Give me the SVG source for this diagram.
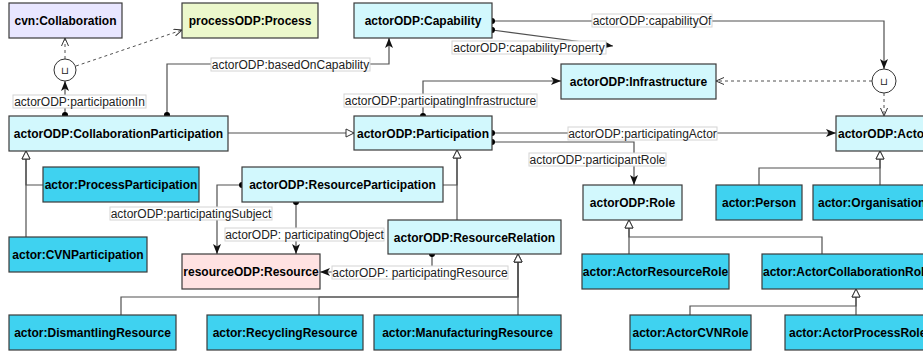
<svg xmlns="http://www.w3.org/2000/svg" width="923" height="352" viewBox="0 0 923 352">
<style>
.box{stroke:#3a3a3a;stroke-width:1.2}
.light{fill:#d2f8fd}
.dark{fill:#3fd2f0}
.nt{font-family:"Liberation Sans",Arial,Helvetica,sans-serif;font-weight:bold;font-size:12px;fill:#000;text-anchor:middle}
.ns{font-family:"Liberation Sans",Arial,Helvetica,sans-serif;font-weight:bold;font-size:12px;fill:#000}
.e{fill:none;stroke:#505050;stroke-width:1.2}
.d{fill:none;stroke:#505050;stroke-width:1;stroke-dasharray:3,3}
.lr{fill:#fff;stroke:#d4d4d4;stroke-width:1}
.lt{font-family:"Liberation Sans",Arial,Helvetica,sans-serif;font-size:12px;fill:#222;text-anchor:middle}
.cup{fill:#fff;stroke:#333;stroke-width:1}
.ct{font-family:"DejaVu Sans",sans-serif;font-size:10px;fill:#222;text-anchor:middle}
</style>
<defs>
<marker id="arr" markerUnits="userSpaceOnUse" viewBox="0 0 10 10" markerWidth="10" markerHeight="10" refX="10" refY="5" orient="auto">
<path d="M0,1 L10,5 L0,9 L2.5,5 z" fill="#111"/>
</marker>
<marker id="open" markerUnits="userSpaceOnUse" viewBox="0 0 8 8" markerWidth="8" markerHeight="8" refX="8" refY="4" orient="auto">
<path d="M0,0.5 L8,4 L0,7.5" fill="none" stroke="#333" stroke-width="1"/>
</marker>
<marker id="tri" markerUnits="userSpaceOnUse" viewBox="-1 -1 10 10" markerWidth="10" markerHeight="10" refX="8" refY="4" orient="auto">
<path d="M0,0 L8,4 L0,8 z" fill="#fff" stroke="#333" stroke-width="1"/>
</marker>
<marker id="dot" markerUnits="userSpaceOnUse" viewBox="0 0 7 7" markerWidth="7" markerHeight="7" refX="3.5" refY="3.5" orient="auto">
<circle cx="3.5" cy="3.5" r="3" fill="#000"/>
</marker>
</defs>
<rect width="923" height="352" fill="#fff"/>

<g id="connectors">
<path class="e" d="M65,115 V81" marker-start="url(#dot)" marker-end="url(#arr)"/>
<path class="d" d="M65,59 V38" marker-end="url(#open)"/>
<path class="d" d="M76,66 L182,30" marker-end="url(#open)"/>
<path class="e" d="M167,115 V64 H389 V38" marker-start="url(#dot)" marker-end="url(#arr)"/>
<path class="e" d="M228,133 H354" marker-end="url(#tri)"/>
<path class="e" d="M492,21 H884 V69" marker-start="url(#dot)" marker-end="url(#arr)"/>
<path class="e" d="M492,30 L613,46" marker-start="url(#dot)" marker-end="url(#arr)"/>
<path class="d" d="M872,81 H716" marker-end="url(#open)"/>
<path class="d" d="M884,93 V116" marker-end="url(#open)"/>
<path class="e" d="M423,116 V81 H561" marker-start="url(#dot)" marker-end="url(#arr)"/>
<path class="e" d="M492,133 H836" marker-start="url(#dot)" marker-end="url(#arr)"/>
<path class="e" d="M492,142 H634 V185" marker-start="url(#dot)" marker-end="url(#arr)"/>
<path class="e" d="M43,185 H26 V151" marker-end="url(#tri)"/>
<path class="e" d="M26,237 V151" marker-end="url(#tri)"/>
<path class="e" d="M443,185 H457 V150" marker-end="url(#tri)"/>
<path class="e" d="M457,220 V150" marker-end="url(#tri)"/>
<path class="e" d="M121,315 V297 H518 V254" marker-end="url(#tri)"/>
<path class="e" d="M319,315 V297 H518 V254" marker-end="url(#tri)"/>
<path class="e" d="M518,315 V254" marker-end="url(#tri)"/>
<path class="e" d="M629,254 V220" marker-end="url(#tri)"/>
<path class="e" d="M822,254 V237 H629 V220" marker-end="url(#tri)"/>
<path class="e" d="M759,185 V168 H880 V151" marker-end="url(#tri)"/>
<path class="e" d="M880,185 V151" marker-end="url(#tri)"/>
<path class="e" d="M690,315 V306 H856 V289" marker-end="url(#tri)"/>
<path class="e" d="M856,315 V289" marker-end="url(#tri)"/>
<path class="e" d="M242,185 H217 V254" marker-start="url(#dot)" marker-end="url(#arr)"/>
<path class="e" d="M296,202 V254" marker-start="url(#dot)" marker-end="url(#arr)"/>
<path class="e" d="M432,254 V272 H320" marker-start="url(#dot)" marker-end="url(#arr)"/>

<g id="lbl-participationIn"><rect class="lr" x="13" y="95" width="133" height="13"/><text class="lt" x="79.5" y="106">actorODP:participationIn</text></g>
<g id="lbl-basedOnCapability"><rect class="lr" x="211" y="58" width="159" height="13"/><text class="lt" x="290.5" y="69">actorODP:basedOnCapability</text></g>
<g id="lbl-capabilityOf"><rect class="lr" x="592" y="14" width="120" height="13"/><text class="lt" x="652" y="25">actorODP:capabilityOf</text></g>
<g id="lbl-capabilityProperty"><rect class="lr" x="452" y="41" width="154" height="13"/><text class="lt" x="529" y="52">actorODP:capabilityProperty</text></g>
<g id="lbl-participatingInfrastructure"><rect class="lr" x="344" y="94" width="193" height="13"/><text class="lt" x="440.5" y="105">actorODP:participatingInfrastructure</text></g>
<g id="lbl-participatingActor"><rect class="lr" x="568" y="127" width="149" height="13"/><text class="lt" x="642.5" y="138">actorODP:participatingActor</text></g>
<g id="lbl-participantRole"><rect class="lr" x="529" y="153" width="137" height="13"/><text class="lt" x="597.5" y="164">actorODP:participantRole</text></g>
<g id="lbl-participatingSubject"><rect class="lr" x="110" y="207" width="162" height="13"/><text class="lt" x="191" y="218">actorODP:participatingSubject</text></g>
<g id="lbl-participatingObject"><rect class="lr" x="225" y="228" width="159" height="13"/><text class="lt" x="304.5" y="239">actorODP: participatingObject</text></g>
<g id="lbl-participatingResource"><rect class="lr" x="332" y="266" width="176" height="13"/><text class="lt" x="420" y="277">actorODP: participatingResource</text></g>
</g>

<g id="union1"><circle class="cup" cx="65" cy="70" r="11"/><text class="ct" x="65" y="74">⊔</text></g>
<g id="union2"><circle class="cup" cx="884" cy="81" r="12"/><text class="ct" x="884" y="85">⊔</text></g>

<g id="cvn-Collaboration"><rect class="box" x="9" y="3" width="113" height="35" fill="#e8e6ff"/><text class="nt" x="65.5" y="25">cvn:Collaboration</text></g>
<g id="processODP-Process"><rect class="box" x="182" y="3" width="136" height="35" fill="#ecf8cc"/><text class="nt" x="250" y="25">processODP:Process</text></g>
<g id="actorODP-Capability"><rect class="box light" x="354" y="3" width="138" height="35"/><text class="nt" x="423" y="25">actorODP:Capability</text></g>
<g id="actorODP-Infrastructure"><rect class="box light" x="561" y="64" width="155" height="35"/><text class="nt" x="638.5" y="86">actorODP:Infrastructure</text></g>
<g id="actorODP-CollaborationParticipation"><rect class="box light" x="9" y="116" width="219" height="35"/><text class="nt" x="118.5" y="138">actorODP:CollaborationParticipation</text></g>
<g id="actorODP-Participation"><rect class="box light" x="354" y="116" width="138" height="34"/><text class="nt" x="423" y="138">actorODP:Participation</text></g>
<g id="actorODP-Actor"><rect class="box light" x="836" y="116" width="110" height="35"/><text class="ns" x="838" y="138">actorODP:Actor</text></g>
<g id="actor-ProcessParticipation"><rect class="box dark" x="43" y="167" width="156" height="35"/><text class="nt" x="121" y="189">actor:ProcessParticipation</text></g>
<g id="actorODP-ResourceParticipation"><rect class="box light" x="242" y="167" width="201" height="35"/><text class="nt" x="342.5" y="189">actorODP:ResourceParticipation</text></g>
<g id="actorODP-Role"><rect class="box light" x="583" y="185" width="99" height="35"/><text class="nt" x="632.5" y="207">actorODP:Role</text></g>
<g id="actor-Person"><rect class="box dark" x="716" y="185" width="86" height="35"/><text class="nt" x="759" y="207">actor:Person</text></g>
<g id="actor-Organisation"><rect class="box dark" x="813" y="185" width="130" height="35"/><text class="ns" x="818" y="207">actor:Organisation</text></g>
<g id="actor-CVNParticipation"><rect class="box dark" x="9" y="237" width="138" height="35"/><text class="nt" x="78" y="259">actor:CVNParticipation</text></g>
<g id="actorODP-ResourceRelation"><rect class="box light" x="388" y="220" width="173" height="34"/><text class="nt" x="474.5" y="242">actorODP:ResourceRelation</text></g>
<g id="resourceODP-Resource"><rect class="box" x="182" y="254" width="138" height="35" fill="#ffe2e2"/><text class="nt" x="251" y="276">resourceODP:Resource</text></g>
<g id="actor-ActorResourceRole"><rect class="box dark" x="582" y="254" width="147" height="35"/><text class="nt" x="655.5" y="276">actor:ActorResourceRole</text></g>
<g id="actor-ActorCollaborationRole"><rect class="box dark" x="762" y="254" width="185" height="35"/><text class="ns" x="763" y="276">actor:ActorCollaborationRole</text></g>
<g id="actor-DismantlingResource"><rect class="box dark" x="9" y="315" width="167" height="35"/><text class="nt" x="92.5" y="337">actor:DismantlingResource</text></g>
<g id="actor-RecyclingResource"><rect class="box dark" x="207" y="315" width="156" height="35"/><text class="nt" x="285" y="337">actor:RecyclingResource</text></g>
<g id="actor-ManufacturingResource"><rect class="box dark" x="374" y="315" width="187" height="35"/><text class="nt" x="467.5" y="337">actor:ManufacturingResource</text></g>
<g id="actor-ActorCVNRole"><rect class="box dark" x="630" y="315" width="121" height="35"/><text class="nt" x="690.5" y="337">actor:ActorCVNRole</text></g>
<g id="actor-ActorProcessRole"><rect class="box dark" x="785" y="315" width="150" height="35"/><text class="ns" x="789" y="337">actor:ActorProcessRole</text></g>
</svg>
